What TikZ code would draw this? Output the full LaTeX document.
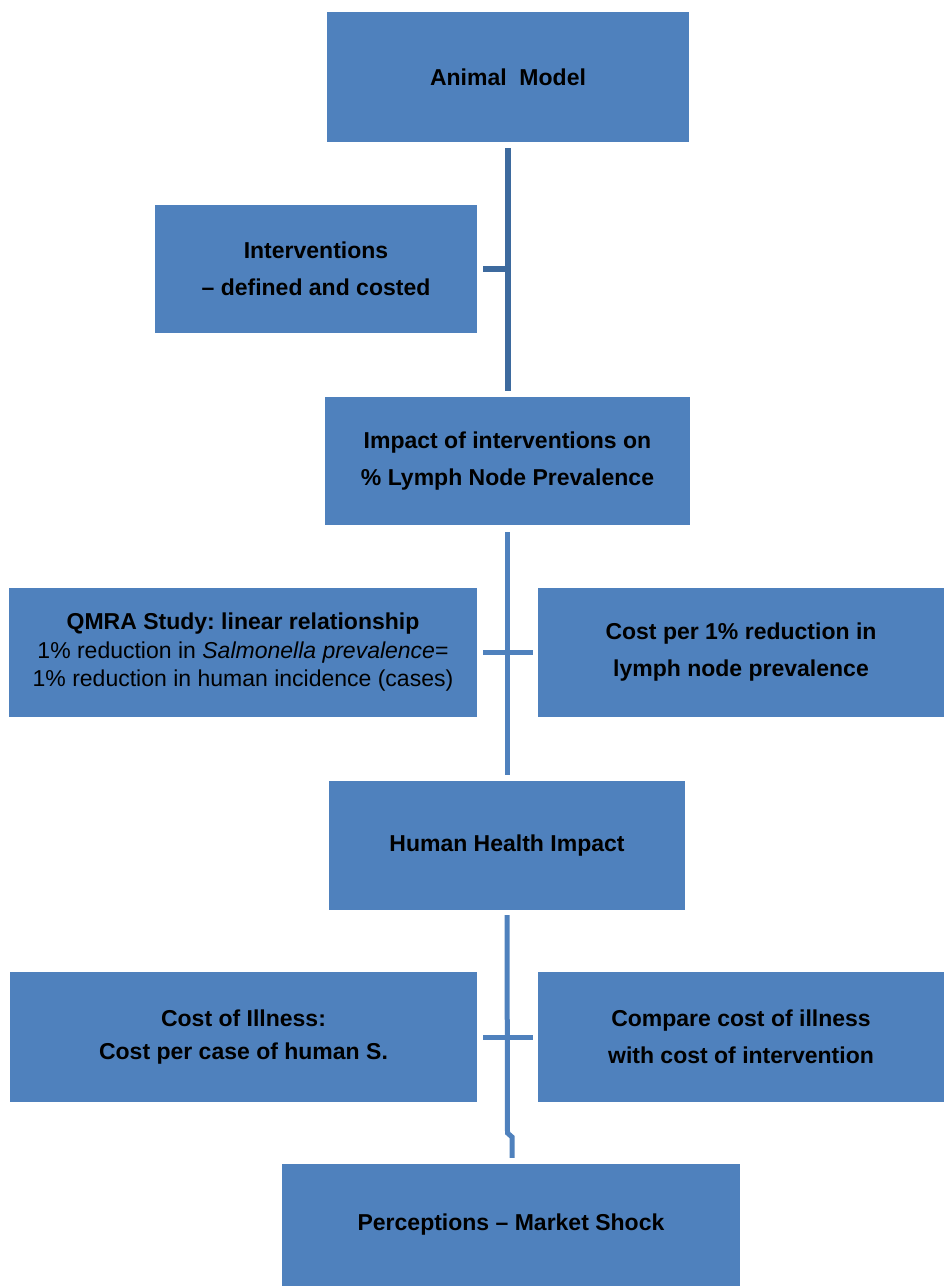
\documentclass[tikz,border=0pt]{standalone}
\usepackage{fontspec}
\setmainfont{Liberation Sans}
\frenchspacing
\definecolor{boxblue}{HTML}{4F81BD}
\definecolor{linkdark}{HTML}{3D6A9E}
\begin{document}
\begin{tikzpicture}[x=1pt,y=-1pt,
  stage/.style={fill=boxblue, draw=none, inner sep=4pt, align=center,
    font=\fontsize{23}{37}\selectfont\bfseries, text=black},
  link/.style={draw=boxblue, line width=5pt},
  darklink/.style={draw=linkdark, line width=6pt}]
\useasboundingbox (0,0) rectangle (944,1286);

% stages of the model chain
\node[stage, minimum width=362pt, minimum height=130pt] (animal) at (508,77) {Animal\ \ Model};
\node[stage, minimum width=322pt, minimum height=128pt] (interv) at (316,269) {Interventions\\– defined and costed};
\node[stage, minimum width=365pt, minimum height=128pt] (impact) at (507.5,461) {Impact of interventions on\\\% Lymph Node Prevalence};
\node[stage, minimum width=468pt, minimum height=129pt,
      font=\fontsize{23}{28.5}\selectfont\bfseries] (qmra) at (243,652.5)
  {QMRA Study: linear relationship\\
   \mdseries 1\% reduction in \textit{Salmonella prevalence}=\\
   \mdseries 1\% reduction in human incidence (cases)};
\node[stage, minimum width=406pt, minimum height=129pt] (costred) at (741,652.5) {Cost per 1\% reduction in\\lymph node prevalence};
\node[stage, minimum width=356pt, minimum height=129pt] (human) at (507,845.5) {Human Health Impact};
\node[stage, minimum width=467pt, minimum height=130pt,
      font=\fontsize{23}{33}\selectfont\bfseries] (illness) at (243.5,1037) {Cost of Illness:\\Cost per case of human S.};
\node[stage, minimum width=406pt, minimum height=130pt] (compare) at (741,1037) {Compare cost of illness\\with cost of intervention};
\node[stage, minimum width=458pt, minimum height=122pt] (perc) at (511,1225) {Perceptions – Market Shock};

% first link: animal model down to the impact stage, with the interventions tick
\draw[darklink, shorten <=6pt, shorten >=6pt] (animal.south) -- (impact.north -| animal.south);
\draw[darklink, shorten <=6pt] (interv.east) -- (interv.east -| animal.south);

% second link: impact down to human health, crossed by the QMRA / cost bar
\draw[link, shorten <=7pt, shorten >=6pt] (impact.south) -- (human.north -| impact.south);
\draw[link, shorten <=6pt, shorten >=5pt] (qmra.east) -- (costred.west);

% third link: human health down to perceptions, crossed by the cost bar
\coordinate (j1) at (507.5,1133);
\coordinate (j2) at (512,1137);
\draw[link, shorten <=5pt, shorten >=6pt] (human.south) -- (j1) -- (j2) -- (perc.north -| j2);
\draw[link, shorten <=6pt, shorten >=5pt] (illness.east) -- (compare.west);
\end{tikzpicture}
\end{document}
